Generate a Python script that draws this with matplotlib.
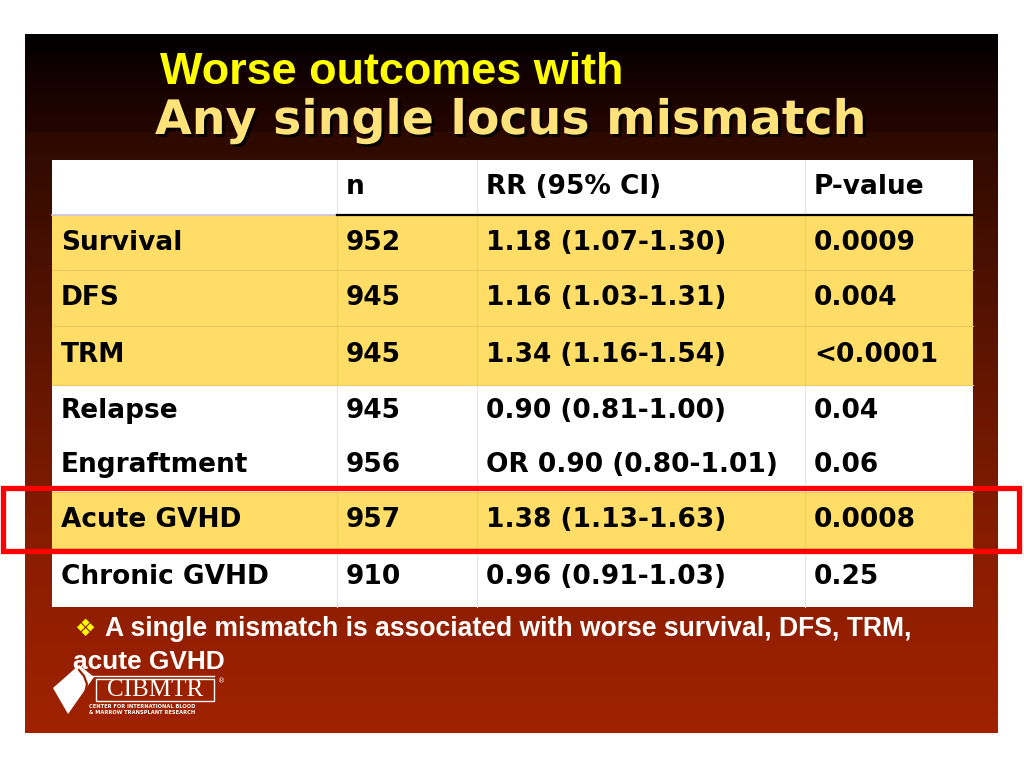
import numpy as np
import matplotlib
matplotlib.use("Agg")
import matplotlib.pyplot as plt
from matplotlib.patches import Rectangle, Polygon
from matplotlib.colors import LinearSegmentedColormap
import matplotlib.patheffects as pe

# table data
outcomes = ["Survival", "DFS", "TRM", "Relapse", "Engraftment", "Acute GVHD", "Chronic GVHD"]
n_values = ["952", "945", "945", "945", "956", "957", "910"]
rr_ci = ["1.18 (1.07-1.30)", "1.16 (1.03-1.31)", "1.34 (1.16-1.54)", "0.90 (0.81-1.00)",
         "OR 0.90 (0.80-1.01)", "1.38 (1.13-1.63)", "0.96 (0.91-1.03)"]
p_values = ["0.0009", "0.004", "<0.0001", "0.04", "0.06", "0.0008", "0.25"]
significant = [True, True, True, False, False, True, False]
headers = ["", "n", "RR (95% CI)", "P-value"]

title1 = "Worse outcomes with"
title2 = "Any single locus mismatch"
bullet1 = "A single mismatch is associated with worse survival, DFS, TRM,"
bullet2 = "acute GVHD"

# layout (pixels)
col_edges = [52, 337, 477, 805, 973]
row_edges = [160, 215, 270, 326, 385, 437, 492, 548, 607]
YELLOW = "#ffdd66"

fig = plt.figure(figsize=(10.24, 7.68), dpi=100)
ax = fig.add_axes([0, 0, 1, 1])
ax.set_xlim(0, 1024)
ax.set_ylim(768, 0)
ax.axis("off")

# background panel: title band + gradient body
top_cmap = LinearSegmentedColormap.from_list("top", ["#000000", "#160200", "#240500"])
body_cmap = LinearSegmentedColormap.from_list(
    "body", [(0, "#2c0900"), (0.35, "#5c1400"), (0.7, "#8a1d00"), (1, "#a02200")])
grad = np.linspace(0, 1, 256).reshape(-1, 1)
ax.imshow(grad, cmap=top_cmap, extent=[25, 998, 132, 34], aspect="auto", zorder=0)
ax.imshow(grad, cmap=body_cmap, extent=[25, 998, 733, 132], aspect="auto", zorder=0)

# titles
ax.text(160, 84, title1, color="#ffff00", fontsize=32.4, fontweight="bold",
        family="Liberation Sans", va="baseline", ha="left", zorder=3)
ax.text(155, 134, title2, color="#ffe27a", fontsize=34.2, fontweight="bold",
        family="DejaVu Sans", va="baseline", ha="left", zorder=3,
        path_effects=[pe.withSimplePatchShadow(offset=(2, -2), shadow_rgbFace="#000000", alpha=0.9)])

# table cells
n_rows = len(outcomes) + 1
for r in range(n_rows):
    y0, y1 = row_edges[r], row_edges[r + 1]
    face = YELLOW if (r > 0 and significant[r - 1]) else "#ffffff"
    ax.add_patch(Rectangle((col_edges[0], y0), col_edges[-1] - col_edges[0], y1 - y0,
                           facecolor=face, edgecolor="none", zorder=1))
    line_c = "#efcf5a" if face == YELLOW else "#e4e4e4"
    for x in col_edges[1:-1]:
        ax.plot([x, x], [y0, y1], color=line_c, lw=0.8, zorder=2)
    if r >= 2 and not (r == 5):
        ax.plot([col_edges[0], col_edges[-1]], [y0, y0], color="#e8c860", lw=0.8, zorder=2)
    cells = headers if r == 0 else [outcomes[r - 1], n_values[r - 1], rr_ci[r - 1], p_values[r - 1]]
    for c, txt in enumerate(cells):
        ax.text(col_edges[c] + 9, (y0 + y1) / 2, txt, fontsize=19, fontweight="bold",
                family="DejaVu Sans", color="#000000", va="center", ha="left", zorder=3)

# header underline
ax.plot([col_edges[0], col_edges[1]], [row_edges[1], row_edges[1]], color="#c8c0e0", lw=1.2, zorder=2)
ax.plot([col_edges[1], col_edges[-1]], [row_edges[1], row_edges[1]], color="#000000", lw=1.6, zorder=2)

# red highlight box around Acute GVHD
ax.add_patch(Rectangle((3, 488), 1016, 63, facecolor="none", edgecolor="#ff0000", lw=3.8, zorder=4))

# bullet text
ax.text(74, 636, "\u2756", color="#ffff00", fontsize=17, family="DejaVu Sans",
        va="baseline", ha="left", zorder=3)
ax.text(105, 636, bullet1, color="#ffffff", fontsize=19.1, fontweight="bold",
        family="Liberation Sans", va="baseline", ha="left", zorder=3)
ax.text(73, 669, bullet2, color="#ffffff", fontsize=18.9, fontweight="bold",
        family="Liberation Sans", va="baseline", ha="left", zorder=3)

# CIBMTR logo
ax.add_patch(Polygon([(53, 688), (79, 665), (94, 677), (68, 714)],
                     closed=True, facecolor="#ffffff", edgecolor="none", zorder=3))
ax.plot([79, 84, 87, 85, 79], [670, 676, 684, 694, 706], color="#9c2000", lw=1.6, zorder=3)
ax.plot([88, 214], [676, 676], color="#ffffff", lw=1.0, zorder=3)
ax.add_patch(Rectangle((96, 679), 118, 22, facecolor="none", edgecolor="#ffffff", lw=1.0, zorder=3))
ax.text(155, 690, "CIBMTR", color="#ffffff", fontsize=18, family="Liberation Serif",
        va="center", ha="center", zorder=3)
ax.text(218, 681, "\u00ae", color="#ffffff", fontsize=5, va="center", ha="left", zorder=3)
ax.text(89, 707, "CENTER FOR INTERNATIONAL BLOOD", color="#ffffff", fontsize=3.7,
        fontweight="bold", va="center", ha="left", zorder=3)
ax.text(89, 713, "& MARROW TRANSPLANT RESEARCH", color="#ffffff", fontsize=3.7,
        fontweight="bold", va="center", ha="left", zorder=3)

fig.savefig("out.png", dpi=100)
